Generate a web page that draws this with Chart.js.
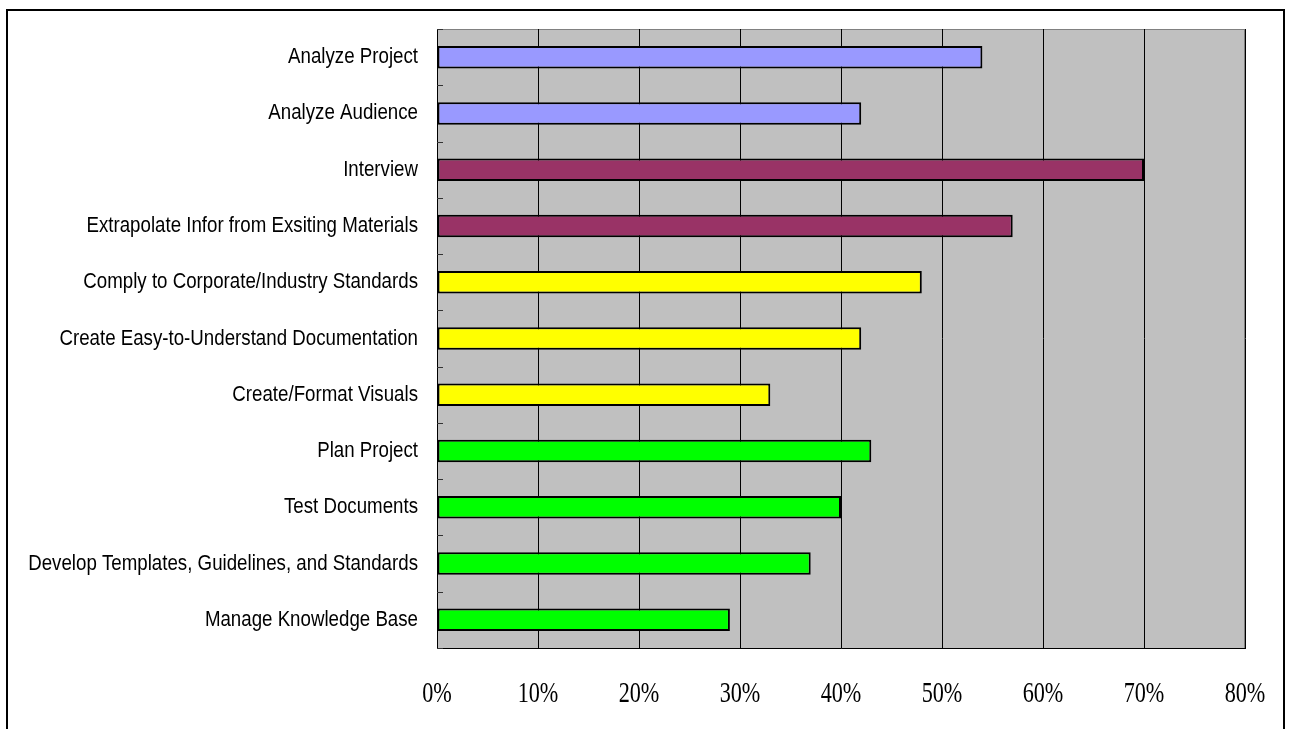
<!DOCTYPE html>
<html>
<head>
<meta charset="utf-8">
<script src="https://cdn.jsdelivr.net/npm/chart.js@4/dist/chart.umd.min.js"></script>
<style>
    html, body { margin: 0; padding: 0; background: #fff; overflow: hidden; }
    #frame { position: absolute; left: 6px; top: 9px; width: 1275px; height: 760px; border: 2px solid #000; }
    #chart { position: absolute; left: 0; top: 0; }
</style>
</head>
<body>
<div id="frame"></div>
<canvas id="chart" width="1293" height="729"></canvas>
<script>
const tasks = [
    "Analyze Project",
    "Analyze Audience",
    "Interview",
    "Extrapolate Infor from Exsiting Materials",
    "Comply to Corporate/Industry Standards",
    "Create Easy-to-Understand Documentation",
    "Create/Format Visuals",
    "Plan Project",
    "Test Documents",
    "Develop Templates, Guidelines, and Standards",
    "Manage Knowledge Base"
];
const shares = [54, 42, 70, 57, 48, 42, 33, 43, 40, 37, 29];
const groupOf = ["analyze", "analyze", "gather", "gather", "write", "write", "write", "manage", "manage", "manage", "manage"];
const groupColors = { analyze: "#9999FF", gather: "#993366", write: "#FFFF00", manage: "#00FF00" };
const xTicks = [0, 10, 20, 30, 40, 50, 60, 70, 80];

// narrow text: squeeze a regular face horizontally (no narrow fonts installed)
function narrowText(ctx, text, x, y, font, squeeze, align) {
    ctx.save();
    ctx.font = font;
    ctx.fillStyle = "#000";
    ctx.textBaseline = "middle";
    ctx.textAlign = align;
    ctx.translate(x, y);
    ctx.scale(squeeze, 1);
    ctx.fillText(text, 0, 0);
    ctx.restore();
}

/*plot background, inner tick marks, axis labels*/
const plotArea = {
    id: "plotArea",
    beforeDraw(chart) {
        const { ctx, chartArea: a } = chart;
        ctx.save();
        ctx.fillStyle = "#C0C0C0";
        ctx.fillRect(a.left, a.top, a.right - a.left, a.bottom - a.top);
        ctx.strokeStyle = "#808080";
        ctx.lineWidth = 1;
        ctx.strokeRect(a.left + 0.5, a.top + 0.5, a.right - a.left - 1, a.bottom - a.top);
        ctx.restore();
    },
    afterDraw(chart) {
        const { ctx, chartArea: a } = chart;
        const y = chart.scales.y;
        const x = chart.scales.x;
        ctx.save();
        ctx.strokeStyle = "#333";
        ctx.lineWidth = 1;
        for (let i = 0; i <= tasks.length; i++) {
            let py;
            if (i === 0) py = a.top;
            else if (i === tasks.length) py = a.bottom;
            else py = (y.getPixelForTick(i - 1) + y.getPixelForTick(i)) / 2;
            py = Math.round(py) + 0.5;
            ctx.beginPath();
            ctx.moveTo(a.left, py);
            ctx.lineTo(a.left + 6, py);
            ctx.stroke();
        }
        ctx.restore();

        tasks.forEach((t, i) => {
            narrowText(ctx, t, a.left - 19, y.getPixelForTick(i), "22px 'Liberation Sans', Arial, sans-serif", 0.85, "right");
        });
        xTicks.forEach(v => {
            narrowText(ctx, v + "%", x.getPixelForValue(v), a.bottom + 46, "30px 'Liberation Serif', 'Times New Roman', serif", 0.74, "center");
        });
    }
};

new Chart(document.getElementById("chart"), {
    type: "bar",
    data: {
        labels: tasks,
        datasets: [{
            data: shares,
            backgroundColor: groupOf.map(g => groupColors[g]),
            borderColor: "#000",
            borderWidth: 2,
            borderSkipped: false,
            categoryPercentage: 1,
            barPercentage: 0.4
        }]
    },
    options: {
        indexAxis: "y",
        responsive: false,
        animation: false,
        devicePixelRatio: 1,
        layout: { padding: { left: 0, top: 29, right: 48, bottom: 0 } },
        plugins: { legend: { display: false }, tooltip: { enabled: false } },
        scales: {
            x: {
                min: 0,
                max: 80,
                afterBuildTicks: s => { s.ticks = xTicks.map(v => ({ value: v })); },
                afterFit: s => { s.height = 81; },
                grid: { color: "#000", lineWidth: 1, drawTicks: false },
                border: { display: true, color: "#000", width: 1 },
                ticks: { display: false }
            },
            y: {
                afterFit: s => { s.width = 437; },
                grid: { display: true, drawOnChartArea: false, drawTicks: false },
                border: { display: true, color: "#000", width: 1 },
                ticks: { display: false }
            }
        }
    },
    plugins: [plotArea]
});
</script>
</body>
</html>
